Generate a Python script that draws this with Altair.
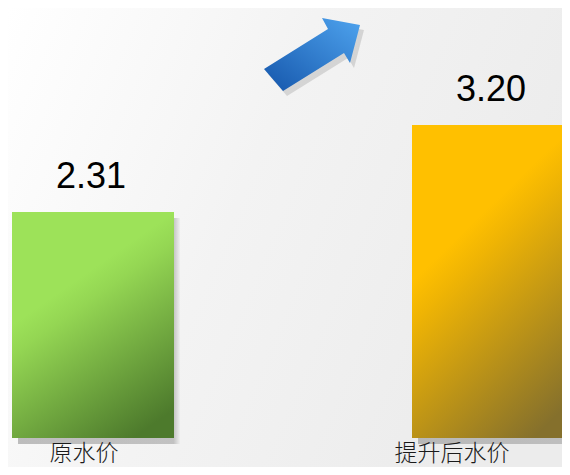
import altair as alt
import pandas as pd

categories = ["原水价", "提升后水价"]
values = [2.31, 3.20]
value_labels = ["2.31", "3.20"]

df = pd.DataFrame({"cat": categories, "val": values, "lab": value_labels})
one = pd.DataFrame({"k": [0]})

W, H = 554, 430
PB = 29

bg_grad = alt.LinearGradient(
    gradient="linear", x1=0, y1=0, x2=1, y2=0.35,
    stops=[alt.GradientStop(offset=0, color="#ffffff"),
           alt.GradientStop(offset=0.5, color="#f3f3f3"),
           alt.GradientStop(offset=1, color="#ececec")])

green_grad = alt.LinearGradient(
    gradient="linear", x1=0.3, y1=0.35, x2=0.65, y2=1.05,
    stops=[alt.GradientStop(offset=0, color="#9de259"),
           alt.GradientStop(offset=0.15, color="#94d653"),
           alt.GradientStop(offset=1, color="#4d7a2c")])

gold_grad = alt.LinearGradient(
    gradient="linear", x1=0.3, y1=0.35, x2=0.65, y2=1.05,
    stops=[alt.GradientStop(offset=0, color="#ffc000"),
           alt.GradientStop(offset=0.15, color="#efb404"),
           alt.GradientStop(offset=1, color="#85702c")])

shadow_grad = alt.LinearGradient(
    gradient="linear", x1=0, y1=0, x2=1, y2=0,
    stops=[alt.GradientStop(offset=0, color="#8c8c8c"),
           alt.GradientStop(offset=0.96, color="#9a9a9a"),
           alt.GradientStop(offset=1, color="#ececec")])

arrow_grad = alt.LinearGradient(
    gradient="linear", x1=0, y1=1, x2=1, y2=0,
    stops=[alt.GradientStop(offset=0, color="#1556ab"),
           alt.GradientStop(offset=1, color="#4ea3ee")])

arrow_path = ("M -0.96 0.28 L 0.32 -0.52 L 0.2 -0.74 L 0.96 -0.6 "
              "L 0.76 0.16 L 0.64 -0.04 L -0.58 0.72 Z")

x_enc = alt.X(
    "cat:N", sort=categories,
    scale=alt.Scale(paddingInner=0.615, paddingOuter=0),
    axis=None,
)
y_enc = alt.Y("val:Q", scale=alt.Scale(domain=[0, 4.395], nice=False, zero=True), axis=None)

bg = alt.Chart(one).mark_rect(fill=bg_grad).encode(
    x=alt.value(0), x2=alt.value(W), y=alt.value(0), y2=alt.value(H + PB))

base = alt.Chart(df)

shadow = base.mark_bar(fill=shadow_grad, opacity=0.55, width=162, xOffset=14,
                       yOffset=6, y2Offset=-6).encode(x=x_enc, y=y_enc)

green = base.transform_filter(alt.datum.cat == categories[0]).mark_bar(
    fill=green_grad, width=162, xOffset=8).encode(x=x_enc, y=y_enc)
gold = base.transform_filter(alt.datum.cat == categories[1]).mark_bar(
    fill=gold_grad, width=162, xOffset=8).encode(x=x_enc, y=y_enc)

text = base.mark_text(dy=-24, dx=6, baseline="alphabetic", align="center",
                      font="Liberation Sans", fontSize=36, color="#000000").encode(
    x=x_enc, y=y_enc, text="lab:N")

lab_style = dict(baseline="alphabetic", align="center", font="Noto Sans CJK SC",
                 fontSize=23, fontWeight=300, color="#1a1a1a")
cat1 = base.transform_filter(alt.datum.cat == categories[0]).mark_text(dx=-1, **lab_style).encode(
    x=x_enc, y=alt.value(H + 23), text="cat:N")
cat2 = base.transform_filter(alt.datum.cat == categories[1]).mark_text(dx=-33, **lab_style).encode(
    x=x_enc, y=alt.value(H + 23), text="cat:N")

arrow_shadow = alt.Chart(one).mark_point(shape=arrow_path, size=10000, filled=True,
                                         fill="#7a7a7a", opacity=0.25, strokeWidth=0).encode(
    x=alt.value(308), y=alt.value(52))
arrow = alt.Chart(one).mark_point(shape=arrow_path, size=10000, filled=True,
                                  fill=arrow_grad, opacity=1, strokeWidth=0).encode(
    x=alt.value(304), y=alt.value(47))

chart = alt.layer(bg, shadow, green, gold, text, cat1, cat2, arrow_shadow, arrow).properties(
    width=W, height=H,
    autosize=alt.AutoSizeParams(type="none"),
    padding={"left": 0, "top": 0, "right": 0, "bottom": PB},
    background="#f3f3f3",
).configure_view(stroke=None)

chart.save("out.html", embed_options={"renderer": "svg", "actions": False})
